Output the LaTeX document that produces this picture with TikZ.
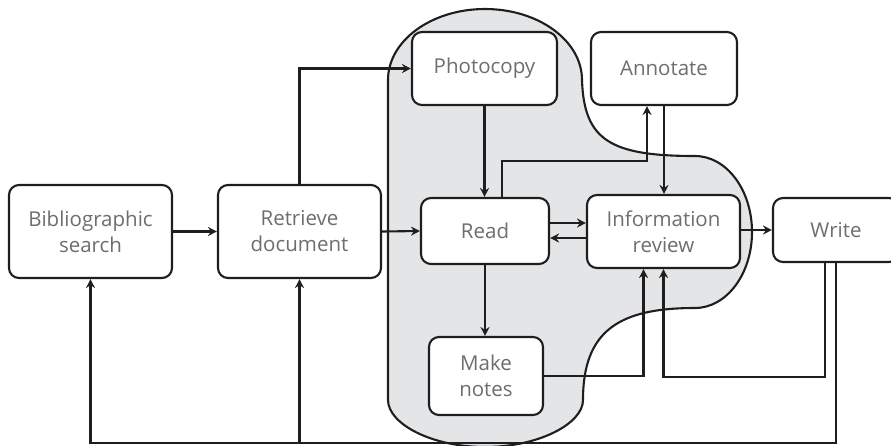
\documentclass[tikz,border=0pt]{standalone}
\usepackage{fontspec}
\setmainfont{Open Sans}
\usetikzlibrary{arrows.meta,calc}
\definecolor{blobfill}{HTML}{E4E5E7}
\definecolor{inkline}{HTML}{1E1E1E}
\definecolor{labeltext}{HTML}{6E6E6E}
\begin{document}
\begin{tikzpicture}[x=1pt,y=-1pt,
  stepbox/.style={draw=inkline, line width=2.1pt, rounded corners=10pt, fill=white,
    align=center, text=labeltext, inner sep=0pt, font=\fontsize{20.5}{26}\selectfont},
  arr/.style={draw=inkline, line width=2.1pt, -{Stealth[length=9pt,width=9pt,inset=3pt]}}]
\useasboundingbox (0,0) rectangle (891,445);

% grey region grouping the reading activities
\path[fill=blobfill, draw=inkline, line width=2.1pt]
  (388,80) .. controls (388,40.8) and (431.4,9) .. (485,9)
  .. controls (538.6,9) and (582,40.8) .. (582,80)
  .. controls (584,140) and (610,156) .. (695,156)
  .. controls (726.5,156) and (752,190) .. (752,232)
  .. controls (752,274) and (726.5,308) .. (695,308)
  .. controls (620,308) and (583,330) .. (583,400)
  .. controls (583,423.7) and (538.6,447) .. (485,447)
  .. controls (431.4,447) and (388,423.7) .. (388,400)
  -- cycle;

% activity boxes
\node[stepbox, minimum width=163pt, minimum height=93pt] (bib)   at (90.5,231.5) {Bibliographic\\search};
\node[stepbox, minimum width=163pt, minimum height=93pt] (ret)   at (299.5,231.5) {Retrieve\\document};
\node[stepbox, minimum width=145pt, minimum height=73pt] (photo) at (484.5,68.5) {Photocopy};
\node[stepbox, minimum width=146pt, minimum height=73pt] (annot) at (664,68.5) {Annotate};
\node[stepbox, minimum width=128pt, minimum height=66pt] (read)  at (485,231) {Read};
\node[stepbox, minimum width=153pt, minimum height=73pt] (info)  at (663.5,231.5) {Information\\review};
\node[stepbox, minimum width=126pt, minimum height=64pt] (write) at (836,230) {Write};
\node[stepbox, minimum width=114pt, minimum height=78pt] (notes) at (486,376) {Make\\notes};

% main flow
\draw[arr] (bib.east) -- (ret.west);
\draw[arr] (ret.east) -- (read.west);
\draw[arr] (ret.north) |- (photo.west);
\draw[arr] (photo.south) -- (photo.south |- read.north);
\draw[arr] ([xshift=17pt]read.north) -- ++(0,-36) -| ([xshift=-17pt]annot.south);
\draw[arr] (annot.south) -- (annot.south |- info.north);
\draw[arr] ([yshift=8pt]read.east) -- ([yshift=8pt]read.east -| info.west);
\draw[arr] ([yshift=-6.5pt]info.west) -- ([yshift=-6.5pt]info.west -| read.east);
\draw[arr] (info.east |- write.west) -- (write.west);
\draw[arr] (read.south) -- (read.south |- notes.north);
\draw[arr] (notes.east) -| ([xshift=-20pt]info.south);
\draw[arr] ([xshift=-11pt]write.south) -- ++(0,114) -| (info.south);

% return loop to the search and retrieval steps
\coordinate (base) at ([yshift=-180pt]write.south);
\draw[arr] (write.south) -- (base) -| (bib.south);
\draw[arr] (base -| ret.south) -- (ret.south);
\end{tikzpicture}
\end{document}
